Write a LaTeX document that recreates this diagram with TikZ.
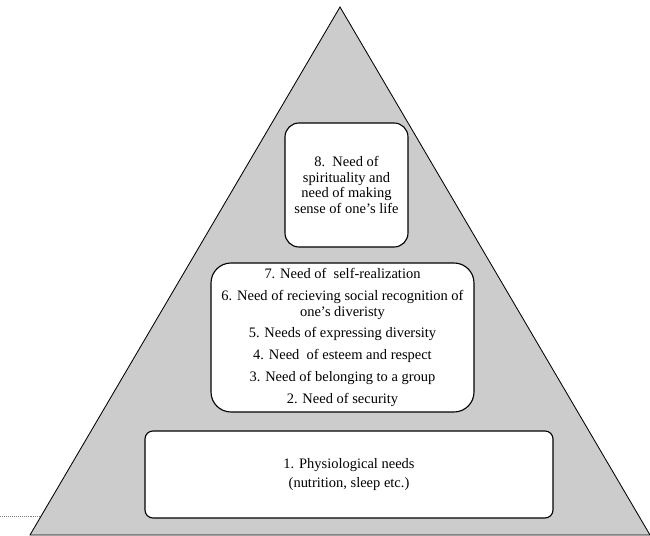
\documentclass[tikz,border=0pt]{standalone}
\usepackage{fontspec}
\setmainfont{Liberation Serif}

\begin{document}
\begin{tikzpicture}[x=0.25mm,y=-0.25mm,font=\fontsize{10.3}{11}\selectfont,
  needbox/.style={draw,line width=0.8pt,fill=white,align=center,inner sep=0pt}]
  \useasboundingbox (0,0) rectangle (650,536);
  \coordinate (apex) at (340,7);
  \coordinate (baseL) at (30,535);
  \coordinate (baseR) at (650,535);
  \draw[gray,densely dotted] (0,516) -- (42,516);
  \filldraw[fill=gray!40,line width=0.6pt] (apex) -- (baseL) -- (baseR) -- cycle;
  \node[needbox,rounded corners=3.5mm,minimum width=30.75mm,minimum height=31mm] (spirit) at (346.5,185)
    {8.\ \ Need of\\spirituality and\\need of making\\sense of one's life};
  \node[needbox,rounded corners=5mm,minimum width=65.75mm,minimum height=37.25mm] (social) at (342.5,337.5)
    {7. Need of\ \ self-realization\\[4.5pt]
     6. Need of recieving social recognition of\\one's diveristy\\[4.5pt]
     5. Needs of expressing diversity\\[4.5pt]
     4. Need\ \ of esteem and respect\\[4.5pt]
     3. Need of belonging to a group\\[4.5pt]
     2. Need of security};
  \node[needbox,rounded corners=2mm,minimum width=102mm,minimum height=21.75mm] (physio) at (349,474.5)
    {1. Physiological needs\\[3.2pt](nutrition, sleep etc.)};
\end{tikzpicture}
\end{document}
